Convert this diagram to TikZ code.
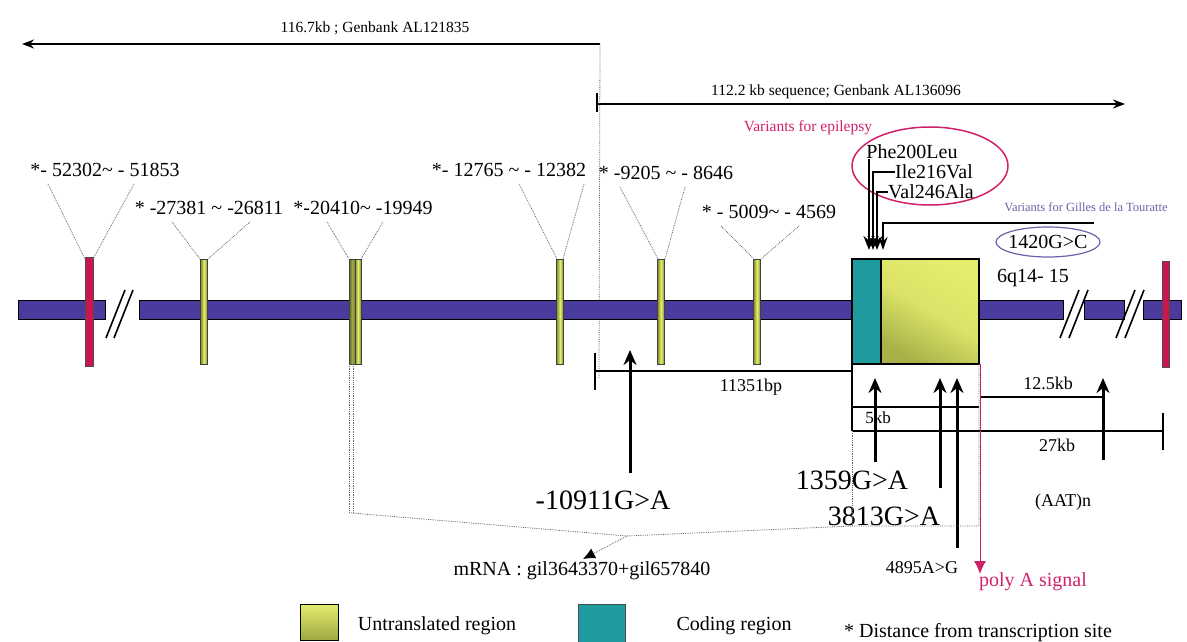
\documentclass[tikz,border=0pt]{standalone}
\usepackage{fontspec}
\setmainfont{Liberation Serif}
\usepackage{tikz}
\definecolor{violetbar}{HTML}{4A3B9C}
\definecolor{rouge}{HTML}{CC1450}
\definecolor{jaune}{HTML}{E6EC6E}
\definecolor{kaki}{HTML}{7E8A2E}
\definecolor{sarcelle}{HTML}{1F9A9E}
\definecolor{rose}{HTML}{D0206A}
\definecolor{mauve}{HTML}{6A62AA}
\usetikzlibrary{shapes,calc,arrows.meta}

\begin{document}
\begin{tikzpicture}[x=1pt,y=-1pt,
  moyen/.style={inner sep=0pt,font=\fontsize{20}{24}\selectfont},
  petit/.style={inner sep=0pt,font=\fontsize{15.5}{18}\selectfont},
  cote/.style={inner sep=0pt,font=\fontsize{18}{22}\selectfont},
  grand/.style={inner sep=0pt,font=\fontsize{28}{32}\selectfont},
  exon/.style={draw=black!75,line width=1pt,left color=kaki,right color=kaki,middle color=jaune},
  pointille/.style={densely dotted,black!60,line width=0.8pt},
  trait/.style={line width=1.6pt},
  pointe/.style={line width=2.5pt,-{Stealth[length=14pt,width=11pt]}},
  fleche/.style={line width=3pt,-{Stealth[length=15pt,width=13pt]}}]
\useasboundingbox (0,0) rectangle (1187,642);

% sequences
\coordinate (g0) at (600,44);
\coordinate (g1) at (22,44);
\coordinate (d0) at (597,104);
\coordinate (d1) at (1125,104);
\draw[trait,-{Stealth[length=12pt,width=9pt]}] (g0) -- (g1);
\draw[trait,-{Stealth[length=12pt,width=9pt]}] (d0) -- (d1);
\draw[trait] (597,93) -- (597,112);
\draw[pointille] (g0) -- (599,378);
\node[petit] (gb1) at (375,28) {116.7kb ; Genbank AL121835};
\node[petit] (gb2) at (836,92) {112.2 kb sequence; Genbank AL136096};

% chromosome
\foreach \a/\b in {18/105,139/852,979/1063,1084/1124,1143/1181}
  \draw[fill=violetbar,line width=1pt] (\a,300) rectangle (\b,319);
\foreach \a in {106,114,1060,1069,1116,1125}
  \draw[trait] (\a,338) -- ++(19,-48);

% exons
\draw[fill=rouge,draw=black!70,line width=1pt] (85,257) rectangle (93,366);
\draw[fill=rouge,draw=black!70,line width=1pt] (1162,261) rectangle (1169,367);
\foreach \x in {204,560,661,757}
  \draw[exon] (\x-3.5,259) rectangle (\x+3.5,364);
\draw[exon,left color=kaki!70!black,right color=kaki,middle color=kaki!70!jaune] (349,259) rectangle (355,364);
\draw[exon] (355,259) rectangle (361,364);
\fill[sarcelle] (852,259) rectangle (881,364);
\shade[bottom color=kaki!60!jaune,top color=jaune,middle color=jaune!90!kaki,shading angle=-30] (881,259) rectangle (979,364);
\draw[line width=1.3pt] (852,259) rectangle (979,364);
\draw[line width=1.3pt] (881,259) -- (881,364);
\node[moyen] (loc) at (1033,278) {6q14- 15};

% positions des exons
\node[moyen] (e1) at (105,170) {*- 52302\textasciitilde{} - 51853};
\node[moyen] (e2) at (209,208) {* -27381 \textasciitilde{} -26811};
\node[moyen] (e3) at (363,208) {*-20410\textasciitilde{} -19949};
\node[moyen] (e4) at (509,170) {*- 12765 \textasciitilde{} - 12382};
\node[moyen] (e5) at (666,173) {* -9205 \textasciitilde{} - 8646};
\node[moyen] (e6) at (769,212) {* - 5009\textasciitilde{} - 4569};
\foreach \e/\da/\db/\xa/\xb in {e1/-57/29/85/93,e2/-37/41/200/208,e3/-36/20/349/361,
    e4/10/75/557/563,e5/-46/19/658/665,e6/-48/30/754/761}
  \draw[pointille] (\e.south) ++(\da,7) -- (\xa,259) (\e.south) ++(\db,7) -- (\xb,259);

% variants epilepsie
\node[petit,text=rose] (ve) at (808,128) {Variants for epilepsy};
\node[draw=rose,ellipse,line width=1.5pt,minimum width=156pt,minimum height=78pt] (ep) at (930,166) {};
\node[moyen] (pl) at (912,152) {Phe200Leu};
\node[moyen] (iv) at (934,172) {Ile216Val};
\node[moyen] (va) at (931,192) {Val246Ala};
\coordinate (c1) at (869,250);
\coordinate (c2) at (873,250);
\coordinate (c3) at (877,250);
\coordinate (c4) at (883,250);
\draw[pointe] (c1 |- pl.south) -- (c1);
\draw[pointe] (iv.west) -| (c2);
\draw[pointe] (va.west) -| (c3);

% variants Tourette
\node[inner sep=0pt,font=\fontsize{12.5}{15}\selectfont,text=mauve] (vt) at (1086,207) {Variants for Gilles de la Touratte};
\node[moyen] (tg) at (1048,242) {1420G>C};
\draw[mauve,line width=1.2pt] (tg) ellipse [x radius=52pt,y radius=15pt];
\coordinate (t0) at (1094,223);
\draw[line width=1.5pt,-{Stealth[length=13pt,width=9pt]}] (t0) -| (c4);

% distances
\draw[trait] (595,371) -- (852,371);
\draw[trait] (595,353) -- (595,390);
\node[cote] (l1) at (751,387) {11351bp};
\draw[trait] (852,364) -- (852,431);
\draw[trait] (852,407) -- (979,407);
\node[inner sep=0pt,font=\fontsize{17}{20}\selectfont] (l2) at (878,418) {5kb};
\draw[trait] (852,431) -- (1163,431);
\draw[trait] (1163,413) -- (1163,450);
\node[cote] (l3) at (1057,445) {27kb};
\draw[trait] (980,397) -- (1103,397);
\node[cote] (l4) at (1048,383) {12.5kb};

% SNP
\foreach \n/\x/\yb/\yh in {1/630/473/350,2/875/462/378,3/940/488/378,4/957/548/378,5/1103/460/378}
{
  \coordinate (b\n) at (\x,\yb);
  \coordinate (h\n) at (\x,\yh);
  \draw[fleche] (b\n) -- (h\n);
}
\node[grand] (v1) at (603,500) {-10911G>A};
\node[grand] (v2) at (852,480) {1359G>A};
\node[grand] (v3) at (884,516) {3813G>A};
\node[cote] (v4) at (922,568) {4895A>G};
\node[cote] (v5) at (1063,502) {(AAT)n};

% ARNm
\draw[pointille] (349,364) -- (349,513);
\draw[pointille] (353,364) -- (353,513);
\coordinate (m0) at (351,513);
\coordinate (mj) at (627,536);
\coordinate (m2) at (852,526);
\coordinate (mt) at (583,559);
\draw[pointille] (m0) -- (mj) -- (m2) -- (979,526) -- (979,364);
\draw[pointille] (852,431) -- (m2);
\draw[pointille,-{Latex[length=12pt,width=11pt,black]}] (mj) -- (mt);
\node[moyen] (mr) at (582,571) {mRNA : gil3643370+gil657840};

% poly A
\coordinate (p0) at (980,364);
\coordinate (p1) at (980,574);
\draw[rose,line width=1pt,-{Latex[length=13pt,width=12pt]}] (p0) -- (p1);
\node[moyen,text=rose] (pa) at (1033,582) {poly A signal};

% legende
\draw[line width=1pt,top color=jaune,bottom color=kaki!70!jaune] (300,604) rectangle (338,640);
\node[moyen] (u) at (437,626) {Untranslated region};
\draw[line width=1pt,fill=sarcelle,draw=black!70] (578,604) rectangle (625,642);
\node[moyen] (cr) at (734,626) {Coding region};
\node[moyen] (ds) at (978,633) {* Distance from transcription site};
\end{tikzpicture}
\end{document}
